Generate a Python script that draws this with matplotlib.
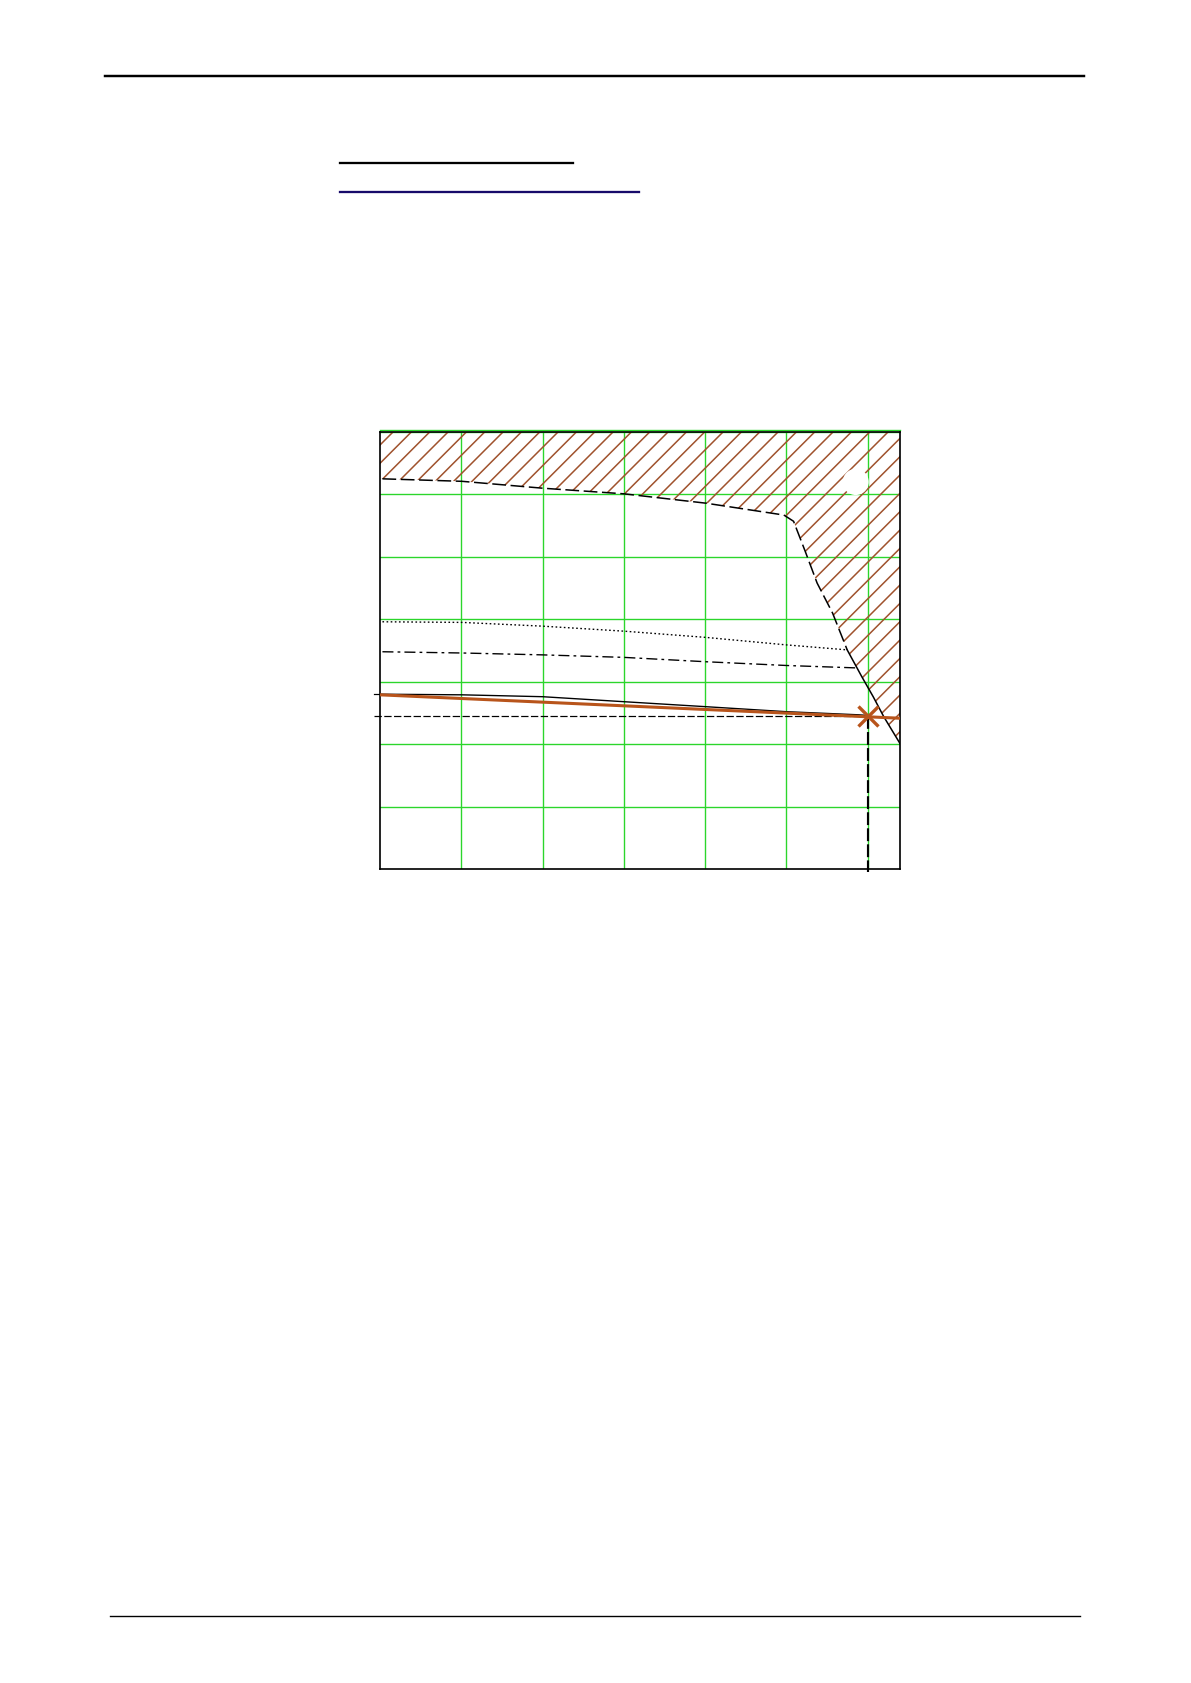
import matplotlib.pyplot as plt
from matplotlib.patches import Ellipse

# data (grid units, x 0..6.4, y 0..7)
limit_x = [0.0, 0.03, 1.01, 2.0, 3.0, 4.01, 4.97, 5.09, 5.23, 5.38, 5.57, 5.75]
limit_y = [6.25, 6.25, 6.21, 6.10, 6.01, 5.86, 5.67, 5.57, 5.10, 4.58, 4.10, 3.51]
limit_low_x = [5.75, 5.93, 6.07, 6.2, 6.4]
limit_low_y = [3.51, 3.08, 2.76, 2.44, 2.01]

dot_x = [0.03, 1.01, 2.0, 3.0, 4.01, 5.0, 5.75]
dot_y = [3.96, 3.95, 3.89, 3.81, 3.71, 3.59, 3.51]

dashdot_x = [0.03, 1.01, 2.0, 3.0, 4.01, 5.0, 5.89]
dashdot_y = [3.48, 3.46, 3.43, 3.39, 3.32, 3.26, 3.22]

solid_x = [0.0, 1.01, 2.0, 3.0, 4.01, 5.0, 5.89, 6.0]
solid_y = [2.80, 2.79, 2.76, 2.68, 2.60, 2.52, 2.47, 2.46]

orange_x = [0.0, 6.4]
orange_y = [2.79, 2.415]

point_x = 6.0
point_y = 2.45

x_grid = [1, 2, 3, 4, 5, 6]
y_grid = [1, 2, 3, 4, 5, 6, 7]

green = '#2BD62B'
brown = '#A0522D'
orange = '#B8541B'

plt.rcParams['hatch.linewidth'] = 1.0
plt.rcParams['hatch.color'] = brown

dpi = 110
fig = plt.figure(figsize=(1191 / dpi, 1683 / dpi), dpi=dpi)

# page rules and the two underlines
fig.add_artist(plt.Line2D([105 / 1191, 1084 / 1191], [1 - 75.5 / 1683] * 2, color='black', lw=1.6))
fig.add_artist(plt.Line2D([110 / 1191, 1080 / 1191], [1 - 1616 / 1683] * 2, color='black', lw=0.9))
fig.add_artist(plt.Line2D([340 / 1191, 573 / 1191], [1 - 163 / 1683] * 2, color='black', lw=1.5))
fig.add_artist(plt.Line2D([340 / 1191, 639 / 1191], [1 - 191.5 / 1683] * 2, color='#170A6A', lw=1.5))

ax = fig.add_axes([380 / 1191, 1 - 869 / 1683, 520 / 1191, 437 / 1683])
ax.set_xlim(0, 6.4)
ax.set_ylim(0, 7)
ax.set_xticks([])
ax.set_yticks([])
for s in ax.spines.values():
    s.set_linewidth(1.1)
    s.set_color('black')

# green grid
for gx in x_grid:
    ax.axvline(gx, color=green, lw=0.9, zorder=1)
for gy in y_grid:
    ax.axhline(gy, color=green, lw=0.9, zorder=1)
ax.plot([0, 6.4], [7.025, 7.025], color=green, lw=0.9, clip_on=False)

# hatched area above the limit curve
fx = limit_x + limit_low_x[1:]
fy = limit_y + limit_low_y[1:]
ax.fill_between(fx, fy, 7, facecolor='none', edgecolor=brown, hatch='//', linewidth=0, zorder=2)

# white spot near top right
ax.add_patch(Ellipse((5.855, 6.2), 0.32, 0.42, facecolor='white', edgecolor='none', zorder=3))

# curves
ax.plot(limit_x[1:], limit_y[1:], color='black', lw=1.0, linestyle=(0, (9, 3)), zorder=4)
ax.plot(limit_low_x, limit_low_y, color='black', lw=1.0, zorder=4)
ax.plot(dot_x, dot_y, color='black', lw=0.9, linestyle=(0, (1.2, 1.8)), zorder=4)
ax.plot(dashdot_x, dashdot_y, color='black', lw=0.9, linestyle=(0, (8, 3, 2, 3)), zorder=4)
ax.plot(solid_x, solid_y, color='black', lw=0.9, zorder=4)
ax.plot(orange_x, orange_y, color=orange, lw=2.0, zorder=5)

# operating point with helper lines
ax.plot([-0.07, point_x], [point_y, point_y], color='black', lw=0.8, linestyle=(0, (6, 2)), clip_on=False, zorder=4)
ax.plot([point_x, point_x], [point_y, -0.05], color='black', lw=1.4, linestyle=(0, (6, 1.5)), clip_on=False, zorder=4)
ax.plot([-0.08, 0], [2.80, 2.80], color='black', lw=0.8, clip_on=False)
ax.plot(point_x, point_y, marker='x', markersize=13, markeredgewidth=2.2, color=orange, zorder=6)

plt.savefig('out.png', dpi=dpi)
